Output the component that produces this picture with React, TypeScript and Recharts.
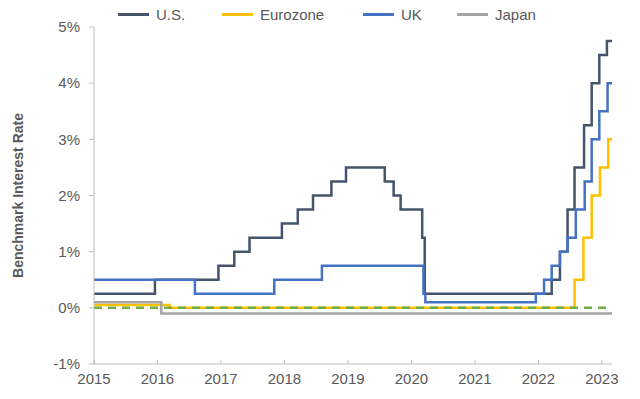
import React from 'react';
import { LineChart, Line, XAxis, YAxis, Legend, Label } from 'recharts';

const usRates = [
  { x: 2015.0, y: 0.25 }, { x: 2015.96, y: 0.5 }, { x: 2016.96, y: 0.75 }, { x: 2017.21, y: 1.0 },
  { x: 2017.45, y: 1.25 }, { x: 2017.96, y: 1.5 }, { x: 2018.21, y: 1.75 }, { x: 2018.45, y: 2.0 },
  { x: 2018.74, y: 2.25 }, { x: 2018.97, y: 2.5 }, { x: 2019.58, y: 2.25 }, { x: 2019.72, y: 2.0 },
  { x: 2019.83, y: 1.75 }, { x: 2020.17, y: 1.25 }, { x: 2020.21, y: 0.25 }, { x: 2022.21, y: 0.5 },
  { x: 2022.34, y: 1.0 }, { x: 2022.46, y: 1.75 }, { x: 2022.57, y: 2.5 }, { x: 2022.72, y: 3.25 },
  { x: 2022.84, y: 4.0 }, { x: 2022.96, y: 4.5 }, { x: 2023.08, y: 4.75 }, { x: 2023.16, y: 4.75 },
];

const euroRates = [
  { x: 2015.0, y: 0.05 }, { x: 2016.19, y: 0.0 }, { x: 2022.57, y: 0.5 }, { x: 2022.71, y: 1.25 },
  { x: 2022.84, y: 2.0 }, { x: 2022.97, y: 2.5 }, { x: 2023.1, y: 3.0 }, { x: 2023.16, y: 3.0 },
];

const ukRates = [
  { x: 2015.0, y: 0.5 }, { x: 2016.59, y: 0.25 }, { x: 2017.84, y: 0.5 }, { x: 2018.59, y: 0.75 },
  { x: 2020.19, y: 0.25 }, { x: 2020.22, y: 0.1 }, { x: 2021.96, y: 0.25 }, { x: 2022.09, y: 0.5 },
  { x: 2022.21, y: 0.75 }, { x: 2022.34, y: 1.0 }, { x: 2022.46, y: 1.25 }, { x: 2022.59, y: 1.75 },
  { x: 2022.73, y: 2.25 }, { x: 2022.84, y: 3.0 }, { x: 2022.96, y: 3.5 }, { x: 2023.09, y: 4.0 },
  { x: 2023.16, y: 4.0 },
];

const japanRates = [
  { x: 2015.0, y: 0.1 }, { x: 2016.06, y: -0.1 }, { x: 2023.16, y: -0.1 },
];

const zeroLine = [
  { x: 2015.0, y: 0 }, { x: 2023.16, y: 0 },
];

const seriesNames = ['U.S.', 'Eurozone', 'UK', 'Japan'];
const xTicks = [2015, 2016, 2017, 2018, 2019, 2020, 2021, 2022, 2023];
const yTicks = [-1, 0, 1, 2, 3, 4, 5];

const FONT = '"Liberation Sans", Arial, sans-serif';
const TEXT = '#595959';

const legendLefts = [118, 222, 363, 457];

const renderLegend = (props: any) => {
  const payload = (props.payload || [])
    .filter((p: any) => seriesNames.includes(p.value))
    .sort((a: any, b: any) => seriesNames.indexOf(a.value) - seriesNames.indexOf(b.value));
  return (
    <div style={{ position: 'relative', width: 640, height: 30 }}>
      {payload.map((p: any, i: number) => (
        <div
          key={p.value}
          style={{
            position: 'absolute',
            left: legendLefts[i],
            top: 6,
            display: 'flex',
            alignItems: 'center',
            fontFamily: FONT,
            fontSize: 15,
            color: TEXT,
            whiteSpace: 'nowrap',
          }}
        >
          <span style={{ display: 'inline-block', width: 31, height: 3, background: p.color, marginRight: 7 }} />
          <span>{p.value}</span>
        </div>
      ))}
    </div>
  );
};

export default function App() {
  return (
    <div style={{ position: 'absolute', left: 0, top: 0, width: 640, height: 399, background: '#fff' }}>
      <LineChart width={640} height={399} margin={{ top: 27, right: 28, bottom: 0, left: 0 }}>
        <XAxis
          type="number"
          dataKey="x"
          domain={[2015, 2023.16]}
          ticks={xTicks}
          allowDataOverflow
          stroke="#BFBFBF"
          tickSize={-4}
          tickMargin={13}
          height={35}
          tick={{ fill: TEXT, fontSize: 15, fontFamily: FONT }}
          tickFormatter={(v: number) => String(v)}
        />
        <YAxis
          type="number"
          dataKey="y"
          domain={[-1, 5]}
          ticks={yTicks}
          width={94}
          stroke="#BFBFBF"
          tickSize={5}
          tickMargin={9}
          tick={{ fill: TEXT, fontSize: 15, fontFamily: FONT }}
          tickFormatter={(v: number) => `${v}%`}
        >
          <Label
            content={(p: any) => {
              const vb = p.viewBox || {};
              const cx = 18;
              const cy = (vb.y || 0) + (vb.height || 0) / 2;
              return (
                <text
                  x={cx}
                  y={cy}
                  transform={`rotate(-90 ${cx} ${cy})`}
                  textAnchor="middle"
                  dominantBaseline="central"
                  fill={TEXT}
                  fontFamily={FONT}
                  fontSize={14}
                  fontWeight="bold"
                >
                  Benchmark Interest Rate
                </text>
              );
            }}
          />
        </YAxis>
        <Legend
          layout="horizontal"
          verticalAlign="middle"
          align="center"
          wrapperStyle={{ top: 0, left: 0, width: 640, height: 30 }}
          content={renderLegend}
        />
        <Line data={usRates} dataKey="y" name="U.S." type="stepAfter" stroke="#44546A" strokeWidth={2.5} dot={false} isAnimationActive={false} />
        <Line data={euroRates} dataKey="y" name="Eurozone" type="stepAfter" stroke="#FFC000" strokeWidth={2.5} dot={false} isAnimationActive={false} />
        <Line data={ukRates} dataKey="y" name="UK" type="stepAfter" stroke="#4472C4" strokeWidth={2.5} dot={false} isAnimationActive={false} />
        <Line data={japanRates} dataKey="y" name="Japan" type="stepAfter" stroke="#A5A5A5" strokeWidth={2.5} dot={false} isAnimationActive={false} />
        <Line data={zeroLine} dataKey="y" name="zero" legendType="none" type="linear" stroke="#70AD47" strokeWidth={2.5} strokeDasharray="8 6" dot={false} isAnimationActive={false} />
      </LineChart>
    </div>
  );
}
